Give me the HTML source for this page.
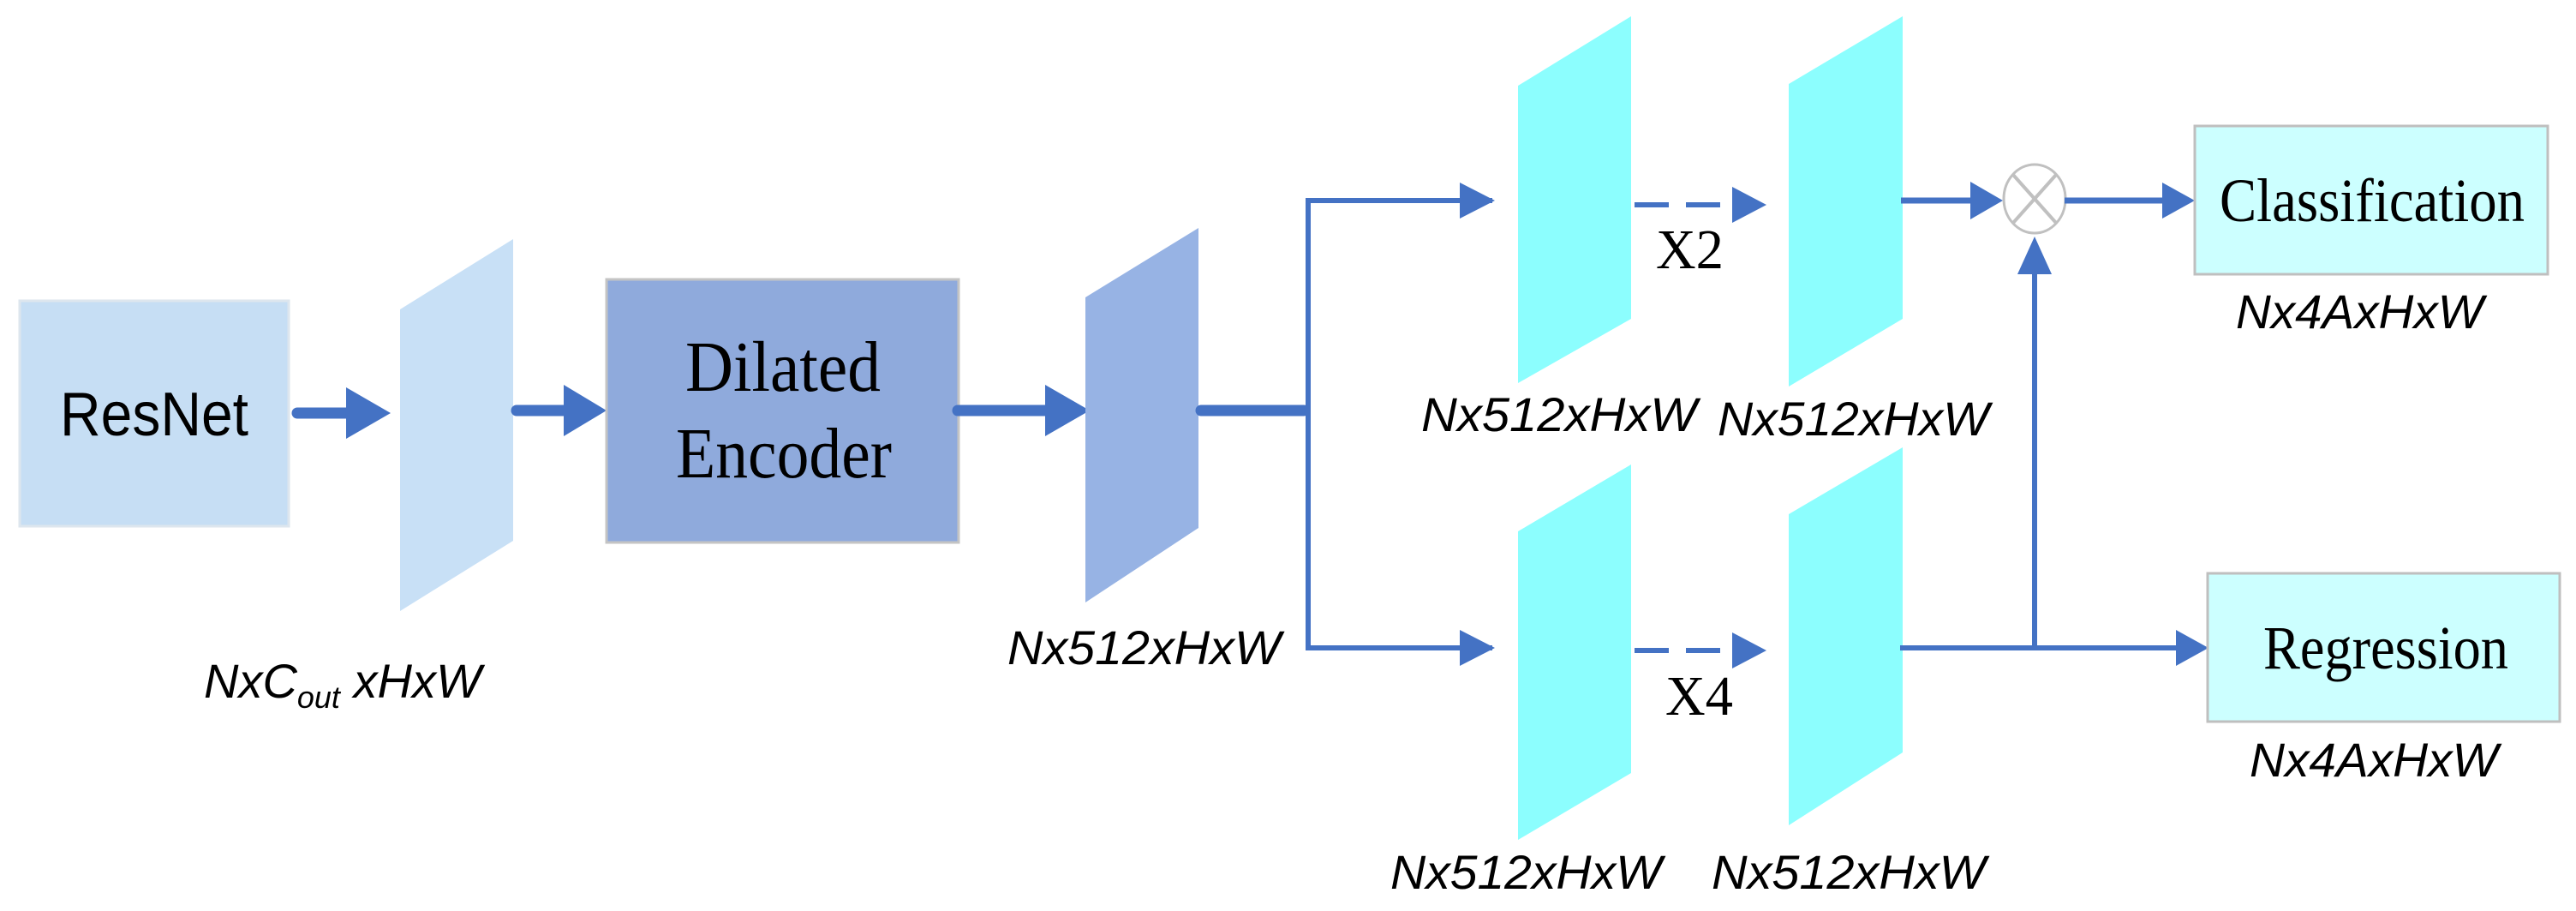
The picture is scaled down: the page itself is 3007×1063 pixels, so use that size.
<!DOCTYPE html>
<html><head><meta charset="utf-8"><style>html,body{margin:0;padding:0;background:#fff;}svg{display:block;}</style></head>
<body>
<svg width="3007" height="1063" viewBox="0 0 3007 1063" xmlns="http://www.w3.org/2000/svg">
<rect x="0" y="0" width="3007" height="1063" fill="#fff"/>
<!-- ResNet -->
<rect x="23" y="351" width="314" height="263" fill="#c6def4" stroke="#dde6ee" stroke-width="3"/>
<text x="180" y="508" font-family="Liberation Sans, sans-serif" font-size="72" text-anchor="middle" textLength="220" lengthAdjust="spacingAndGlyphs">ResNet</text>
<!-- arrow1 -->
<line x1="347" y1="482" x2="410" y2="482" stroke="#4472c4" stroke-width="13" stroke-linecap="round"/>
<polygon points="404,452 456,482 404,512" fill="#4472c4"/>
<!-- para1 -->
<polygon points="467,361 599,279 599,631 467,713" fill="#c8e0f6"/>
<!-- arrow2 -->
<line x1="603" y1="479" x2="666" y2="479" stroke="#4472c4" stroke-width="13" stroke-linecap="round"/>
<polygon points="658,449 708,479 658,509" fill="#4472c4"/>
<!-- Dilated Encoder -->
<rect x="708" y="326" width="411" height="307" fill="#8faadc" stroke="#c4c4c4" stroke-width="3"/>
<text x="914" y="456" font-family="Liberation Serif, serif" font-size="84" text-anchor="middle" textLength="228" lengthAdjust="spacingAndGlyphs">Dilated</text>
<text x="915" y="557" font-family="Liberation Serif, serif" font-size="84" text-anchor="middle" textLength="252" lengthAdjust="spacingAndGlyphs">Encoder</text>
<!-- arrow3 -->
<line x1="1118" y1="479" x2="1228" y2="479" stroke="#4472c4" stroke-width="13" stroke-linecap="round"/>
<polygon points="1220,449 1272,479 1220,509" fill="#4472c4"/>
<!-- para2 -->
<polygon points="1267,347 1399,266 1399,616 1267,703" fill="#97b3e4"/>
<line x1="1402" y1="479" x2="1522" y2="479" stroke="#4472c4" stroke-width="13" stroke-linecap="round"/>
<!-- labels left -->
<text x="238" y="814" font-family="Liberation Sans, sans-serif" font-style="italic" font-size="56">NxC<tspan font-size="36" dy="12">out</tspan><tspan dy="-12"> xHxW</tspan></text>
<text x="1176" y="775" font-family="Liberation Sans, sans-serif" font-style="italic" font-size="56" textLength="319" lengthAdjust="spacingAndGlyphs">Nx512xHxW</text>
<!-- branch lines -->
<polyline points="1742,234 1527,234 1527,756 1742,756" fill="none" stroke="#4472c4" stroke-width="6"/>
<polygon points="1704,213 1745,234 1704,255" fill="#4472c4"/>
<polygon points="1704,735 1745,756 1704,777" fill="#4472c4"/>
<!-- cyan paras -->
<polygon points="1772,100 1904,19 1904,372 1772,447" fill="#8cfefe"/>
<polygon points="2088,98 2221,19 2221,372 2088,451" fill="#8cfefe"/>
<polygon points="1772,620 1904,542 1904,902 1772,980" fill="#8cfefe"/>
<polygon points="2088,600 2221,522 2221,878 2088,963" fill="#8cfefe"/>
<!-- dashed arrows -->
<line x1="1908" y1="239" x2="2024" y2="239" stroke="#4472c4" stroke-width="6" stroke-dasharray="40,20"/>
<polygon points="2022,218 2062,239 2022,260" fill="#4472c4"/>
<line x1="1908" y1="759" x2="2024" y2="759" stroke="#4472c4" stroke-width="6" stroke-dasharray="40,20"/>
<polygon points="2022,738 2062,759 2022,780" fill="#4472c4"/>
<text x="1933" y="313" font-family="Liberation Serif, serif" font-size="66" textLength="79" lengthAdjust="spacingAndGlyphs">X2</text>
<text x="1944" y="834" font-family="Liberation Serif, serif" font-size="66" textLength="79" lengthAdjust="spacingAndGlyphs">X4</text>
<!-- para labels -->
<text x="1659" y="503" font-family="Liberation Sans, sans-serif" font-style="italic" font-size="56" textLength="322" lengthAdjust="spacingAndGlyphs">Nx512xHxW</text>
<text x="2005" y="508" font-family="Liberation Sans, sans-serif" font-style="italic" font-size="56" textLength="317" lengthAdjust="spacingAndGlyphs">Nx512xHxW</text>
<text x="1623" y="1037" font-family="Liberation Sans, sans-serif" font-style="italic" font-size="56" textLength="317" lengthAdjust="spacingAndGlyphs">Nx512xHxW</text>
<text x="1998" y="1037" font-family="Liberation Sans, sans-serif" font-style="italic" font-size="56" textLength="320" lengthAdjust="spacingAndGlyphs">Nx512xHxW</text>
<!-- to circle -->
<line x1="2219" y1="234" x2="2305" y2="234" stroke="#4472c4" stroke-width="7"/>
<polygon points="2300,212 2338,234 2300,256" fill="#4472c4"/>
<ellipse cx="2375" cy="232" rx="36" ry="40" fill="#fff" stroke="#c0c0c0" stroke-width="3"/>
<line x1="2350" y1="204" x2="2400" y2="260" stroke="#c0c0c0" stroke-width="4"/>
<line x1="2400" y1="204" x2="2350" y2="260" stroke="#c0c0c0" stroke-width="4"/>
<line x1="2410" y1="234" x2="2530" y2="234" stroke="#4472c4" stroke-width="7"/>
<polygon points="2524,213 2562,234 2524,255" fill="#4472c4"/>
<!-- Classification -->
<rect x="2562" y="147" width="412" height="173" fill="#ccffff" stroke="#bfbfbf" stroke-width="3"/>
<text x="2591" y="258" font-family="Liberation Serif, serif" font-size="72" textLength="356" lengthAdjust="spacingAndGlyphs">Classification</text>
<text x="2610" y="383" font-family="Liberation Sans, sans-serif" font-style="italic" font-size="56" textLength="289" lengthAdjust="spacingAndGlyphs">Nx4AxHxW</text>
<!-- bottom output -->
<line x1="2218" y1="756" x2="2545" y2="756" stroke="#4472c4" stroke-width="6"/>
<line x1="2375" y1="756" x2="2375" y2="315" stroke="#4472c4" stroke-width="6"/>
<polygon points="2355,320 2375,276 2395,320" fill="#4472c4"/>
<polygon points="2540,735 2578,756 2540,777" fill="#4472c4"/>
<rect x="2577" y="669" width="411" height="173" fill="#ccffff" stroke="#bfbfbf" stroke-width="3"/>
<text x="2642" y="780" font-family="Liberation Serif, serif" font-size="72" textLength="286" lengthAdjust="spacingAndGlyphs">Regression</text>
<text x="2626" y="906" font-family="Liberation Sans, sans-serif" font-style="italic" font-size="56" textLength="290" lengthAdjust="spacingAndGlyphs">Nx4AxHxW</text>
</svg>
</body></html>
